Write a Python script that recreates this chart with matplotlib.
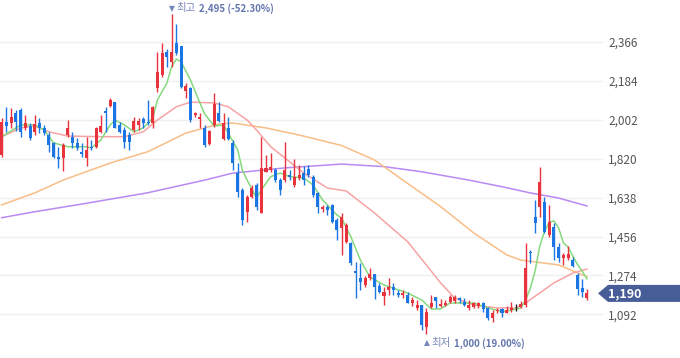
import numpy as np
import matplotlib.pyplot as plt
from matplotlib.patches import Polygon
from matplotlib.transforms import IdentityTransform

plt.rcParams['font.family'] = ['Noto Sans CJK KR', 'DejaVu Sans']

# 일봉 OHLC (125 거래일)
opens = [1837, 1993, 1988, 2032, 2048, 1962, 1973, 1946, 1988, 1962,
         1931, 1892, 1827, 1822, 1931, 1923, 1892, 1853, 1822, 1876,
         1876, 1944, 2043, 2067, 2087, 1978, 1954, 1931, 1954, 1978,
         2006, 1993, 1986, 2149, 2212, 2321, 2274, 2360, 2347, 2138,
         2149, 2024, 2004, 1965, 1889, 1978, 2032, 1911, 1965, 1895,
         1752, 1674, 1572, 1642, 1697, 1565, 1759, 1767, 1767, 1720,
         1720, 1744, 1697, 1728, 1752, 1770, 1736, 1658, 1583, 1596,
         1603, 1533, 1496, 1430, 1426, 1295, 1262, 1229, 1262, 1281,
         1225, 1178, 1206, 1220, 1192, 1182, 1182, 1145, 1122, 1136,
         1033, 1126, 1173, 1131, 1136, 1151, 1156, 1167, 1151, 1120,
         1127, 1131, 1144, 1120, 1073, 1108, 1116, 1100, 1112, 1120,
         1125, 1136, 1385, 1546, 1596, 1619, 1463, 1502, 1408, 1354,
         1354, 1346, 1276, 1214, 1167]
highs = [2009, 2061, 2056, 2048, 2056, 2024, 1986, 2024, 2009, 1978,
         1946, 1900, 1876, 1892, 2001, 1946, 1915, 1892, 1923, 1907,
         1970, 2024, 2063, 2103, 2087, 1993, 1970, 1946, 2014, 2009,
         2014, 2095, 2067, 2321, 2360, 2332, 2495, 2450, 2347, 2173,
         2154, 2040, 2032, 1978, 1954, 2129, 2087, 2032, 2017, 1908,
         1799, 1682, 1650, 1697, 1705, 1923, 1837, 1845, 1775, 1728,
         1900, 1767, 1817, 1791, 1786, 1791, 1744, 1666, 1603, 1603,
         1608, 1541, 1566, 1518, 1430, 1337, 1332, 1271, 1309, 1281,
         1237, 1220, 1262, 1239, 1206, 1206, 1198, 1174, 1159, 1136,
         1122, 1182, 1174, 1162, 1159, 1182, 1182, 1172, 1167, 1159,
         1151, 1151, 1151, 1128, 1112, 1120, 1120, 1131, 1151, 1140,
         1156, 1424, 1393, 1627, 1781, 1642, 1603, 1518, 1424, 1378,
         1412, 1359, 1284, 1256, 1209]
lows = [1829, 1946, 1962, 1951, 1923, 1954, 1908, 1931, 1939, 1931,
        1853, 1822, 1775, 1764, 1923, 1869, 1861, 1829, 1787, 1861,
        1869, 1939, 1946, 2061, 1962, 1939, 1869, 1861, 1946, 1954,
        1962, 1978, 1962, 2134, 2204, 2251, 2251, 2305, 2149, 2103,
        1993, 2016, 1962, 1876, 1884, 1970, 1993, 1908, 1908, 1767,
        1642, 1510, 1525, 1635, 1580, 1565, 1759, 1759, 1713, 1650,
        1713, 1720, 1689, 1720, 1697, 1736, 1642, 1565, 1572, 1557,
        1518, 1440, 1370, 1425, 1323, 1168, 1206, 1221, 1253, 1164,
        1190, 1136, 1182, 1182, 1174, 1168, 1144, 1131, 1112, 1019,
        1000, 1122, 1122, 1127, 1131, 1146, 1146, 1144, 1131, 1112,
        1120, 1120, 1104, 1065, 1058, 1097, 1078, 1097, 1104, 1109,
        1120, 1128, 1331, 1471, 1549, 1471, 1455, 1346, 1338, 1323,
        1346, 1312, 1182, 1174, 1159]
closes = [1993, 1973, 2014, 1993, 1946, 1988, 1915, 1981, 1962, 1942,
          1884, 1829, 1820, 1884, 1962, 1892, 1869, 1842, 1861, 1869,
          1962, 1973, 2035, 2095, 1965, 1946, 1900, 1900, 1998, 1998,
          1986, 1986, 2063, 2227, 2316, 2295, 2321, 2316, 2157, 2160,
          2001, 2032, 2014, 1882, 1951, 2076, 1998, 1988, 1911, 1799,
          1666, 1533, 1642, 1682, 1596, 1775, 1775, 1781, 1720, 1674,
          1767, 1736, 1736, 1744, 1720, 1744, 1650, 1596, 1596, 1580,
          1525, 1487, 1547, 1510, 1332, 1285, 1243, 1262, 1281, 1220,
          1196, 1196, 1220, 1206, 1182, 1192, 1145, 1159, 1136, 1042,
          1103, 1145, 1154, 1140, 1144, 1174, 1172, 1159, 1136, 1136,
          1144, 1146, 1116, 1073, 1100, 1112, 1097, 1112, 1120, 1120,
          1140, 1307, 1378, 1521, 1712, 1479, 1525, 1408, 1354, 1370,
          1374, 1318, 1209, 1198, 1190]

# 이동평균선 (차트에서 읽은 값, 캔들 번호 기준)
ma5_idx = [0, 4, 7, 9, 11, 14, 18, 19, 21, 23, 24, 26, 28, 30, 32, 33, 35, 36,
           37, 38, 40, 42, 43, 45, 47, 48, 50, 51, 52, 54, 55, 57, 59, 61, 64,
           66, 68, 71, 72, 74, 76, 78, 81, 86, 89, 91, 93, 95, 97, 100, 103,
           106, 108, 110, 111, 112, 113, 114, 115, 116, 117, 118, 119, 120,
           121, 122, 123, 124]
ma5 = [1923, 1978, 1978, 1954, 1894, 1876, 1876, 1870, 1908, 1978, 2001, 1978,
       1946, 1964, 2010, 2095, 2174, 2250, 2286, 2274, 2188, 2081, 2030, 1973,
       1978, 1940, 1861, 1767, 1720, 1636, 1674, 1736, 1753, 1736, 1730, 1697,
       1627, 1557, 1543, 1454, 1346, 1267, 1229, 1192, 1159, 1117, 1117, 1145,
       1145, 1145, 1122, 1104, 1112, 1122, 1160, 1213, 1293, 1412, 1479, 1523,
       1529, 1496, 1427, 1406, 1365, 1325, 1294, 1258]
ma20_idx = [0, 4, 7, 10, 14, 21, 26, 30, 33, 37, 40, 45, 48, 52, 54, 57, 61, 64,
            69, 73, 79, 86, 93, 96, 100, 105, 109, 111, 114, 117, 121, 124]
ma20 = [1923, 1964, 1973, 1946, 1926, 1923, 1923, 1946, 2001, 2063, 2085, 2081,
        2063, 2001, 1954, 1876, 1806, 1753, 1683, 1669, 1566, 1432, 1239, 1168,
        1136, 1122, 1122, 1145, 1192, 1239, 1285, 1304]
ma60_idx = [0, 7, 13, 23, 31, 39, 46, 49, 56, 63, 72, 79, 85, 93, 100, 107, 110,
            118, 124]
ma60 = [1604, 1660, 1720, 1800, 1853, 1940, 1982, 1987, 1964, 1931, 1882, 1814,
        1720, 1596, 1473, 1370, 1346, 1323, 1268]
ma120_idx = [0, 7, 17, 31, 43, 49, 60, 72, 81, 89, 99, 106, 112, 118, 124]
ma120 = [1544, 1572, 1608, 1661, 1720, 1753, 1777, 1795, 1783, 1759, 1720, 1689,
         1660, 1636, 1599]

yticks = [1092, 1274, 1456, 1638, 1820, 2002, 2184, 2366]

fig = plt.figure(figsize=(6.8, 3.58), dpi=100)
ax = fig.add_axes([0, 0, 603 / 680, 1])

o = np.array(opens)
h = np.array(highs)
l = np.array(lows)
c = np.array(closes)
x = np.arange(len(c))
colors = np.where(c > o, '#e8323c', np.where(c < o, '#1b76e3', '#222222'))

ax.plot(ma120_idx, ma120, color='#b98af2', lw=1.1, zorder=2)
ax.plot(ma60_idx, ma60, color='#f9bd86', lw=1.1, zorder=2)
ax.plot(ma20_idx, ma20, color='#f7a3a3', lw=1.1, zorder=2)
ax.plot(ma5_idx, ma5, color='#86d97d', lw=1.1, zorder=2)

ax.vlines(x, l, h, colors=colors, lw=1, zorder=3)
ax.bar(x, np.maximum(np.abs(c - o), 4), bottom=np.minimum(o, c), width=0.64,
       color=colors, linewidth=0, zorder=4)

ax.set_xlim(-0.36, 127.4)
ax.set_ylim(887.8, 2562.5)
ax.set_xticks([])
ax.set_yticks(yticks)
ax.set_yticklabels([f'{v:,}' for v in yticks])
ax.yaxis.tick_right()
ax.tick_params(axis='y', length=0, pad=3.6, labelsize=8.5, labelcolor='#555555')
ax.yaxis.grid(True, color='#efefef', lw=1)
ax.set_axisbelow(True)
for s in ax.spines.values():
    s.set_visible(False)

# 최고 / 최저 표시
last = closes[-1]
hi_i = int(np.argmax(h))
lo_i = int(np.argmin(l))
hi, lo = highs[hi_i], lows[lo_i]
lab_col = '#7685b8'
num_col = '#6476ae'
ax.annotate('▼', xy=(hi_i, hi), xytext=(-2.5, 6), textcoords='offset pixels',
            ha='left', va='center', fontsize=5.5, color=lab_col, family='DejaVu Sans')
ax.annotate('최고', xy=(hi_i, hi), xytext=(5, 6), textcoords='offset pixels',
            ha='left', va='center', fontsize=7.5, color=lab_col)
ax.annotate(f'{hi:,} ({(last - hi) / hi * 100:.2f}%)', xy=(hi_i, hi),
            xytext=(27, 6), textcoords='offset pixels', ha='left', va='center',
            fontsize=7, color=num_col, fontweight='bold')
ax.annotate('▲', xy=(lo_i, lo), xytext=(-2.5, -9), textcoords='offset pixels',
            ha='left', va='center', fontsize=5.5, color=lab_col, family='DejaVu Sans')
ax.annotate('최저', xy=(lo_i, lo), xytext=(5, -9), textcoords='offset pixels',
            ha='left', va='center', fontsize=7.5, color=lab_col)
ax.annotate(f'{lo:,} ({(last - lo) / lo * 100:.2f}%)', xy=(lo_i, lo),
            xytext=(28, -9), textcoords='offset pixels', ha='left', va='center',
            fontsize=7, color=num_col, fontweight='bold')

# 현재가 라벨
xr = ax.transAxes.transform((1, 0))[0]
yc = ax.transData.transform((0, last))[1]
pts = [(xr - 5, yc), (xr + 5, yc + 8.5), (680, yc + 8.5), (680, yc - 8.5), (xr + 5, yc - 8.5)]
fig.add_artist(Polygon(pts, closed=True, transform=IdentityTransform(),
                       facecolor='#475d97', edgecolor='none', zorder=5))
fig.text(xr + 5, yc, f'{last:,}', transform=IdentityTransform(), ha='left',
         va='center', fontsize=9, color='white', fontweight='bold', zorder=6)

fig.savefig('out.png', dpi=100)
